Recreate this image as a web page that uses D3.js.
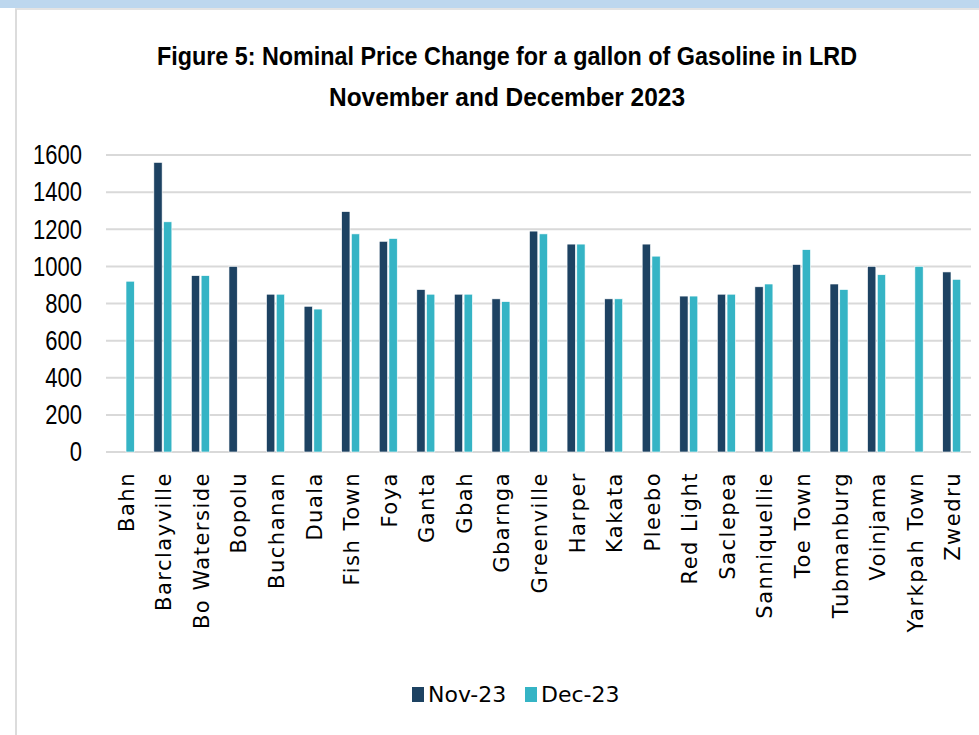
<!DOCTYPE html>
<html>
<head>
<meta charset="utf-8">
<script src="https://cdn.jsdelivr.net/npm/d3@7"></script>
<style>
  body { margin: 0; background: #fff; }
  text { fill: #000; }
</style>
</head>
<body>
<div id="vis"></div>
<script>
// Gasoline price per gallon (LRD), by town
const towns = ["Bahn", "Barclayville", "Bo Waterside", "Bopolu", "Buchanan", "Duala",
  "Fish Town", "Foya", "Ganta", "Gbah", "Gbarnga", "Greenville", "Harper", "Kakata",
  "Pleebo", "Red Light", "Saclepea", "Sanniquellie", "Toe Town", "Tubmanburg",
  "Voinjama", "Yarkpah Town", "Zwedru"];
const nov23 = [null, 1560, 950, 1000, 850, 785, 1295, 1135, 875, 850, 825, 1190, 1120, 825,
  1120, 840, 850, 890, 1010, 905, 1000, null, 970];
const dec23 = [920, 1240, 950, null, 850, 770, 1175, 1150, 850, 850, 810, 1175, 1120, 825,
  1055, 840, 850, 905, 1090, 875, 955, 1000, 930];
const seriesNames = ["Nov-23", "Dec-23"];
const colors = ["#1d4262", "#35b4c5"];
const yTicks = [0, 200, 400, 600, 800, 1000, 1200, 1400, 1600];

const width = 979, height = 735;
const plotLeft = 107, plotRight = 971, plotTop = 155, plotBottom = 452;

const svg = d3.select("#vis").append("svg")
  .attr("width", width)
  .attr("height", height);

// page frame (blue strip on top, grey borders)
svg.append("rect").attr("x", 0).attr("y", 0).attr("width", width).attr("height", 8).attr("fill", "#bdd7ee");
svg.append("line").attr("x1", 15).attr("x2", width).attr("y1", 9).attr("y2", 9)
  .attr("stroke", "#e3e3e3").attr("stroke-width", 2);
svg.append("line").attr("x1", 16).attr("x2", 16).attr("y1", 9).attr("y2", height)
  .attr("stroke", "#dcdcdc").attr("stroke-width", 2);

// title
const title = svg.append("g")
  .attr("font-family", "'Liberation Sans', Arial, sans-serif")
  .attr("font-weight", "bold")
  .attr("font-size", 26)
  .attr("text-anchor", "middle");
title.append("text").attr("x", 507).attr("y", 65)
  .attr("textLength", 700).attr("lengthAdjust", "spacingAndGlyphs")
  .text("Figure 5: Nominal Price Change for a gallon of Gasoline in LRD");
title.append("text").attr("x", 507).attr("y", 106)
  .attr("textLength", 356).attr("lengthAdjust", "spacingAndGlyphs")
  .text("November and December 2023");

const x0 = d3.scaleBand().domain(towns).range([plotLeft, plotRight]);
const x1 = d3.scaleBand().domain(seriesNames).range([-9.5, 8.5]).paddingInner(0.15);
const y = d3.scaleLinear().domain([0, 1600]).range([plotBottom, plotTop]);

// gridlines
svg.append("g")
  .selectAll("line")
  .data(yTicks)
  .join("line")
  .attr("x1", plotLeft - 1).attr("x2", plotRight)
  .attr("y1", d => y(d)).attr("y2", d => y(d))
  .attr("stroke", "#d9d9d9").attr("stroke-width", 2);

// y axis labels
const yAxis = svg.append("g")
  .attr("transform", `translate(${plotLeft - 25},0)`)
  .call(d3.axisLeft(y).tickValues(yTicks).tickFormat(d3.format("d")).tickSize(0).tickPadding(0));
yAxis.select(".domain").remove();
yAxis.selectAll("text")
  .attr("font-family", "'Liberation Sans', Arial, sans-serif")
  .attr("font-size", 22)
  .attr("fill", "#000")
  .attr("transform", "scale(1,1.25)");

// bars
const rows = towns.map((t, i) => ({ town: t, values: [nov23[i], dec23[i]] }));
svg.append("g")
  .selectAll("g")
  .data(rows)
  .join("g")
  .attr("transform", d => `translate(${x0(d.town) + x0.bandwidth() / 2},0)`)
  .selectAll("rect")
  .data(d => d.values.map((v, j) => ({ key: seriesNames[j], value: v, color: colors[j] })).filter(d => d.value != null))
  .join("rect")
  .attr("x", d => x1(d.key))
  .attr("width", x1.bandwidth())
  .attr("y", d => y(d.value))
  .attr("height", d => y(0) - y(d.value))
  .attr("fill", d => d.color)
  .attr("stroke", "#ffffff")
  .attr("stroke-width", 0.6);

// x axis labels (rotated)
const xAxis = svg.append("g")
  .attr("transform", `translate(0,${plotBottom + 20})`)
  .call(d3.axisBottom(x0).tickSize(0).tickPadding(0));
xAxis.select(".domain").remove();
xAxis.selectAll("text")
  .attr("font-family", "'DejaVu Sans', Verdana, sans-serif")
  .attr("font-size", 21)
  .attr("letter-spacing", 1.5)
  .attr("fill", "#000")
  .attr("text-anchor", "end")
  .attr("dy", null)
  .attr("transform", "rotate(-90) translate(0,8)");

// legend
const legend = svg.append("g")
  .attr("font-family", "'DejaVu Sans', Verdana, sans-serif")
  .attr("font-size", 22);
const legendX = [412, 525];
seriesNames.forEach((s, i) => {
  legend.append("rect").attr("x", legendX[i]).attr("y", 687)
    .attr("width", 12).attr("height", 15).attr("fill", colors[i]);
  legend.append("text").attr("x", legendX[i] + 16).attr("y", 702).text(s);
});
</script>
</body>
</html>
